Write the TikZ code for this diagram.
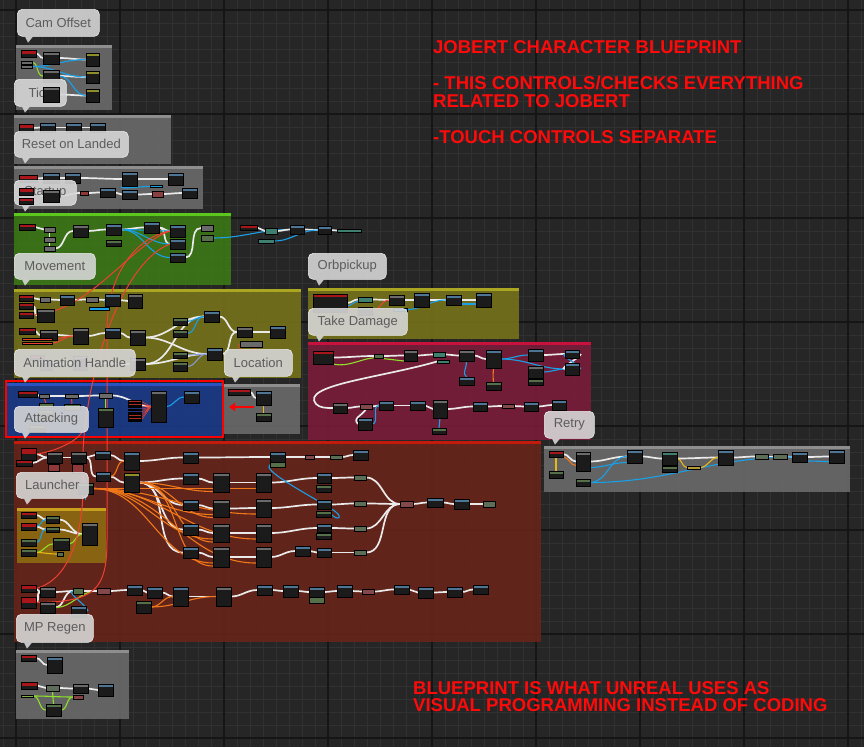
\documentclass[tikz,border=0pt]{standalone}
\usepackage{fontspec}
\setmainfont{Liberation Sans}
\usetikzlibrary{arrows.meta}
\pgfdeclarelayer{bgl}\pgfdeclarelayer{wirel}\pgfdeclarelayer{topl}\pgfdeclarelayer{overl}
\pgfsetlayers{bgl,wirel,main,topl,overl}
\definecolor{bg}{HTML}{262626}
\definecolor{gmin}{HTML}{313131}
\definecolor{gmaj}{HTML}{151515}
\definecolor{nb}{HTML}{1B1B1B}
\definecolor{hblue}{HTML}{4F7594}
\definecolor{hgrey}{HTML}{6A6A6A}
\definecolor{hred}{HTML}{A8161A}
\definecolor{hgreen}{HTML}{556F48}
\definecolor{hteal}{HTML}{3F7F70}
\definecolor{holive}{HTML}{8F8F2A}
\definecolor{wexec}{HTML}{EAEAEA}
\definecolor{wblue}{HTML}{18A0E8}
\definecolor{worange}{HTML}{F07818}
\definecolor{wgreen}{HTML}{8FE02A}
\definecolor{wred}{HTML}{F04030}
\definecolor{wyellow}{HTML}{E8B818}
\definecolor{wpurple}{HTML}{8A9AE0}
\definecolor{cgrey}{HTML}{6C6C6C}\definecolor{cgreyh}{HTML}{8E8E8E}
\definecolor{cgreen}{HTML}{3C7A16}\definecolor{cgreenh}{HTML}{5CC81E}
\definecolor{colive}{HTML}{77741A}\definecolor{coliveh}{HTML}{ABA622}
\definecolor{cblue}{HTML}{1A3A8A}\definecolor{cblueh}{HTML}{2A52C0}
\definecolor{ccrim}{HTML}{7C1C3A}\definecolor{ccrimh}{HTML}{C8123E}
\definecolor{cbrown}{HTML}{6A2419}\definecolor{cbrownh}{HTML}{C21A0C}
\definecolor{cgold}{HTML}{8E6C10}\definecolor{cgoldh}{HTML}{C8A01E}
\definecolor{bub}{HTML}{D6D6D6}\definecolor{bubt}{HTML}{5C5C5C}
\definecolor{tred}{HTML}{FF0A0A}
\tikzset{
 bpn/.style={draw=black, line width=0.3pt, fill=nb, anchor=north west, inner sep=0pt, outer sep=0pt},
 hdr/.style={path picture={\fill[#1] (path picture bounding box.north west) rectangle ([yshift=-2.5pt]path picture bounding box.north east);}},
 evh/.style={path picture={\fill[hred] (path picture bounding box.north west) rectangle (path picture bounding box.east);}},
 exw/.style={draw=wexec, line width=1.7pt},
 blw/.style={draw=wblue, line width=1.1pt},
 orw/.style={draw=worange, line width=1.1pt},
 grw/.style={draw=wgreen, line width=1.1pt},
 rdw/.style={draw=wred, line width=1pt},
 yew/.style={draw=wyellow, line width=1.1pt},
 puw/.style={draw=wpurple, line width=1pt},
 bubble/.style={anchor=north west, inner sep=0pt, rounded corners=5pt, fill=bub, fill opacity=0.9, text opacity=1, draw=white!92!black, line width=0.6pt, text=bubt, font=\fontsize{13}{13}\selectfont},
 rtext/.style={anchor=base west, inner sep=0pt, text=tred, font=\bfseries\fontsize{18.5}{18}\selectfont},
}
\newcommand{\BP}[6]{\node[bpn,hdr=#6,minimum width=#4pt,minimum height=#5pt] (#1) at (#2,#3) {};}
\newcommand{\EV}[5]{\node[bpn,evh,minimum width=#4pt,minimum height=#5pt] (#1) at (#2,#3) {};}
\newcommand{\VN}[6]{\node[bpn,fill=#6,minimum width=#4pt,minimum height=#5pt] (#1) at (#2,#3) {};}
\newcommand{\W}[3]{\draw[#1] (#2.east) to[out=0,in=180] (#3.west);}
\newcommand{\CB}[6]{\fill[#5,fill opacity=0.88] (#1,#2) rectangle (#3,#4); \fill[#6] (#1,#2) rectangle (#3,{#2+3});}
\newcommand{\BB}[6]{\node[bubble,minimum width=#4pt,minimum height=#5pt] (#1) at (#2,#3) {#6};
 \fill[bub,fill opacity=0.9] ([xshift=8pt]#1.south west) -- ([xshift=16pt]#1.south west) -- ([xshift=11pt,yshift=-6pt]#1.south west) -- cycle;}
\begin{document}
\begin{tikzpicture}[x=1pt,y=-1pt]
\useasboundingbox (0,0) rectangle (864,747);
\begin{pgfonlayer}{bgl}
\fill[bg] (0,0) rectangle (864,747);
\foreach \x in {3,16,...,863} \draw[gmin,line width=0.8pt] (\x,0) -- (\x,747);
\foreach \y in {10,23,...,746} \draw[gmin,line width=0.8pt] (0,\y) -- (864,\y);
\foreach \x in {16,120,...,863} \draw[gmaj,line width=1.2pt] (\x,0) -- (\x,747);
\foreach \y in {10,114,...,746} \draw[gmaj,line width=1.2pt] (0,\y) -- (864,\y);
\CB{16}{45}{112}{110}{cgrey}{cgreyh}
\CB{14}{115}{171}{164}{cgrey}{cgreyh}
\CB{14}{166}{203}{209}{cgrey}{cgreyh}
\CB{14}{213}{231}{285}{cgreen}{cgreenh}
\CB{14}{289}{301}{378}{colive}{coliveh}
\CB{7}{383}{222}{436}{cblue}{cblueh}
\CB{224}{384}{300}{434}{cgrey}{cgreyh}
\CB{308}{288}{519}{339}{colive}{coliveh}
\CB{308}{342}{591}{440}{ccrim}{ccrimh}
\CB{544}{446}{850}{492}{cgrey}{cgreyh}
\CB{14}{441}{541}{642}{cbrown}{cbrownh}
\CB{17}{508}{106}{563}{cgold}{cgoldh}
\CB{16}{650}{129}{719}{cgrey}{cgreyh}
\draw[red,line width=2pt] (6,381) rectangle (223,437);
\end{pgfonlayer}
% ---------- texts
\node[rtext] (tx1) at (433,53) {JOBERT CHARACTER BLUEPRINT};
\node[rtext] (tx2) at (433,89) {- THIS CONTROLS/CHECKS EVERYTHING};
\node[rtext] (tx3) at (433,107) {RELATED TO JOBERT};
\node[rtext] (tx4) at (433,143) {-TOUCH CONTROLS SEPARATE};
\node[rtext] (tx5) at (413,694) {BLUEPRINT IS WHAT UNREAL USES AS};
\node[rtext] (tx6) at (413,711) {VISUAL PROGRAMMING INSTEAD OF CODING};
% ---------- Cam Offset
\EV{ca1}{21}{50}{15}{7}
\BP{ca2}{43}{52}{16}{12}{hgrey}
\BP{ca3}{86}{53}{13}{13}{holive}
\BP{ca4}{43}{70}{16}{12}{hgrey}
\BP{ca5}{86}{71}{13}{12}{holive}
\BP{ca7}{86}{89}{13}{13}{holive}
\VN{cv1}{21}{61}{11}{3}{hgrey}
\VN{cv2}{21}{65}{11}{3}{hgrey}
% ---------- Tick
\EV{tk1}{19}{124}{14}{8}
\BP{tk2}{40}{123}{15}{9}{hblue}
\BP{tk3}{66}{123}{15}{9}{hblue}
\BP{tk4}{90}{123}{15}{9}{hblue}
% ---------- Reset on Landed
\EV{rs1}{19}{175}{18}{7}
\BP{rs2}{43}{173}{16}{10}{hblue}
\BP{rs3}{65}{173}{15}{10}{hblue}
\BP{rs4}{122}{172}{15}{14}{hblue}
\BP{rs5}{168}{173}{15}{12}{hblue}
\VN{rs9}{80}{191}{8}{4}{hred!60!hgrey}
\BP{rs10}{100}{188}{15}{9}{hblue}
\BP{rs11}{122}{190}{15}{9}{hblue}
\VN{rs12}{152}{191}{11}{6}{hred!50!hgrey}
\BP{rs13}{182}{188}{15}{10}{hblue}
\VN{rs14}{150}{185}{12}{2}{wblue}
% ---------- Startup
\EV{st1}{19}{224}{16}{6}
\VN{st2}{44}{227}{11}{5}{hgrey}
\VN{st3}{44}{237}{11}{5}{hgrey}
\VN{st4}{44}{246}{11}{5}{hgrey}
\BP{st5}{73}{225}{15}{12}{hgrey}
\BP{st6}{106}{224}{15}{11}{hblue}
\BP{st7}{106}{240}{15}{6}{hgreen}
\BP{st8}{144}{222}{15}{11}{hblue}
\BP{st9}{170}{225}{15}{12}{hblue}
\BP{st10}{170}{239}{15}{10}{hblue}
\BP{st11}{170}{253}{15}{9}{hblue}
\VN{st12}{201}{225}{12}{6}{hgrey}
\VN{st13}{201}{235}{12}{6}{hgreen}
\EV{st14}{240}{225}{17}{5}
\VN{st15}{265}{228}{12}{6}{hteal}
\BP{st16}{290}{225}{14}{9}{hblue}
\BP{st17}{318}{226}{13}{8}{hblue}
\VN{st18}{337}{229}{24}{3}{hteal}
\VN{st19}{258}{239}{16}{4}{hteal}
% ---------- Movement
\EV{mv1}{19}{295}{14}{6}
\VN{mv2}{40}{297}{10}{5}{hgrey}
\BP{mv3}{60}{295}{14}{10}{hblue}
\VN{mv4}{86}{297}{12}{5}{hgrey}
\BP{mv5}{105}{294}{15}{12}{hblue}
\BP{mv6}{128}{294}{14}{14}{hgrey}
\VN{mv7}{89}{307}{20}{3}{wblue}
\EV{mv8}{19}{303}{14}{6}
\EV{mv9}{19}{312}{14}{6}
\BP{mv10}{37}{309}{17}{13}{hgrey}
\EV{mv11}{19}{328}{16}{6}
\BP{mv12}{40}{330}{17}{10}{hgrey}
\BP{mv13}{73}{328}{15}{16}{hgrey}
\BP{mv14}{105}{328}{15}{10}{hblue}
\BP{mv15}{130}{330}{15}{15}{hgrey}
\BP{mv16}{173}{318}{14}{7}{hgreen}
\BP{mv17}{173}{330}{14}{7}{hgreen}
\BP{mv18}{204}{311}{15}{11}{hblue}
\BP{mv19}{237}{327}{15}{10}{hgrey}
\BP{mv20}{270}{326}{15}{12}{hblue}
\BP{mv21}{173}{352}{14}{6}{hgreen}
\BP{mv22}{173}{362}{14}{9}{hgreen}
\BP{mv23}{207}{348}{15}{12}{hblue}
\BP{mv24}{130}{358}{15}{12}{hgrey}
\VN{mv25}{22}{338}{30}{2}{wred}
\VN{mv26}{22}{342}{30}{2}{wred}
\VN{mv27}{240}{341}{22}{6}{hgrey}
\EV{mv28}{30}{355}{14}{5}
\BP{mv29}{40}{360}{12}{10}{hgrey}
\BP{mv30}{73}{356}{14}{14}{hgrey}
% ---------- Orbpickup
\BP{ob1}{313}{294}{34}{18}{hred}
\VN{ob2}{358}{297}{14}{5}{hteal}
\BP{ob3}{358}{307}{14}{8}{hgreen}
\BP{ob4}{389}{295}{15}{10}{hgrey}
\BP{ob5}{414}{293}{15}{14}{hblue}
\BP{ob6}{446}{295}{15}{10}{hblue}
\BP{ob7}{476}{293}{15}{14}{hblue}
\VN{ob8}{393}{308}{14}{3}{wblue}
% ---------- Take Damage
\BP{td1}{313}{351}{20}{13}{hred}
\VN{td2}{374}{354}{9}{4}{hgreen}
\BP{td3}{404}{350}{13}{11}{hgrey}
\VN{td4}{433}{352}{12}{5}{hteal}
\BP{td5}{459}{350}{15}{11}{hgrey}
\BP{td6}{486}{350}{15}{18}{hblue}
\BP{td7}{528}{349}{15}{12}{hblue}
\BP{td8}{565}{350}{14}{8}{hblue}
\BP{td9}{565}{363}{14}{12}{hblue}
\BP{td10}{459}{377}{15}{8}{hblue}
\BP{td11}{486}{382}{15}{8}{hgreen}
\BP{td12}{528}{366}{15}{12}{hgrey}
\BP{td13}{528}{379}{15}{6}{hgreen}
\BP{td14}{333}{403}{14}{10}{hgrey}
\VN{td15}{360}{404}{12}{5}{hred!40!hgrey}
\BP{td16}{379}{401}{14}{9}{hblue}
\BP{td17}{410}{401}{15}{9}{hblue}
\BP{td18}{433}{400}{14}{18}{hgrey}
\BP{td19}{473}{402}{14}{9}{hblue}
\VN{td20}{502}{404}{12}{4}{hred!40!hgrey}
\BP{td21}{524}{402}{14}{9}{hblue}
\BP{td22}{552}{400}{14}{10}{hblue}
\BP{td23}{358}{418}{14}{12}{hblue}
\BP{td24}{432}{428}{14}{6}{hgreen}
\VN{td25}{437}{360}{12}{3}{hteal}
% ---------- Animation Handle
\EV{ah1}{18}{391}{19}{6}
\VN{ah2}{39}{394}{10}{4}{hgrey}
\VN{ah3}{65}{394}{13}{4}{hgrey}
\VN{ah4}{99}{393}{13}{5}{hgrey}
\BP{ah5}{151}{391}{15}{31}{hgrey}
\BP{ah6}{184}{391}{15}{12}{hblue}
\VN{ah7}{39}{403}{14}{4}{hgreen}
\VN{ah8}{64}{404}{16}{6}{hgreen}
\BP{ah9}{98}{408}{15}{19}{hgreen}
\BP{ah10}{38}{410}{15}{10}{hgreen}
\BP{ah11}{29}{425}{16}{7}{hgreen}
\foreach \i in {0,...,7}{\pgfmathsetmacro{\yy}{400.5+2.8*\i}\VN{rsk\i}{128}{\yy}{13}{1.4}{wred!70!black}}
% ---------- Location
\EV{lo1}{228}{389}{22}{6}
\BP{lo2}{256}{391}{15}{14}{hblue}
\BP{lo3}{256}{413}{15}{8}{hgreen}
\coordinate (arrS) at (254,407);
\coordinate (arrE) at (229,407);
% ---------- Attacking
\EV{ak1}{21}{448}{15}{12}
\EV{ak2}{16}{460}{16}{6}
\BP{ak3}{47}{452}{15}{11}{hgrey}
\VN{ak3b}{48}{464}{11}{7}{hred!60!hgrey}
\BP{ak4}{71}{452}{15}{11}{hgrey}
\VN{ak4b}{72}{464}{11}{9}{hred!60!hgrey}
\BP{ak5}{95}{451}{15}{8}{hblue}
\BP{ak6}{124}{452}{15}{18}{hblue}
\BP{ak7}{183}{452}{15}{11}{hblue}
\BP{ak8}{270}{452}{15}{10}{hblue}
\VN{ak8b}{270}{462}{15}{5}{hgreen}
\VN{ak9}{305}{455}{9}{4}{hred!40!hgrey}
\VN{ak10}{330}{455}{12}{4}{hgreen!70!hgrey}
\BP{ak11}{353}{450}{15}{10}{hblue}
\BP{ak12}{96}{472}{14}{9}{hblue}
\BP{ak13}{124}{473}{15}{19}{holive}
\BP{ak14}{183}{473}{15}{11}{hblue}
\BP{ak15}{213}{473}{16}{19}{hgrey}
\BP{ak16}{256}{473}{15}{19}{hgrey}
\BP{ak17}{317}{473}{14}{10}{hblue}
\BP{ak18}{316}{485}{15}{7}{hgreen}
\VN{ak19g}{354}{475}{12}{5}{hgreen!60!hgrey}
\BP{ak20}{78}{483}{15}{11}{hgreen}
\BP{ak21}{183}{500}{15}{10}{hblue}
\BP{ak22}{213}{500}{16}{17}{hgrey}
\BP{ak23}{256}{499}{15}{18}{hgrey}
\BP{ak24}{317}{500}{14}{9}{hblue}
\BP{ak25}{316}{511}{15}{6}{hgreen}
\VN{ak26}{354}{501}{12}{5}{hgreen!60!hgrey}
\VN{ak27}{400}{501}{13}{6}{hred!40!hgrey}
\BP{ak28}{427}{498}{16}{9}{hblue}
\BP{ak29}{454}{499}{15}{10}{hblue}
\VN{ak30}{483}{501}{12}{6}{hgreen!60!hgrey}
\BP{ak31}{183}{524}{15}{11}{hblue}
\BP{ak32}{213}{524}{16}{18}{hgrey}
\BP{ak33}{256}{524}{15}{18}{hgrey}
\BP{ak34}{317}{524}{14}{8}{hblue}
\BP{ak35}{316}{533}{15}{6}{hgreen}
\VN{ak36}{354}{526}{12}{5}{hgreen!60!hgrey}
\BP{ak37}{183}{547}{15}{11}{hblue}
\BP{ak38}{213}{547}{16}{20}{hgrey}
\BP{ak39}{256}{547}{15}{20}{hgrey}
\BP{ak40}{295}{546}{15}{10}{hblue}
\BP{ak41}{317}{548}{14}{9}{hblue}
\VN{ak42}{354}{550}{12}{5}{hgreen!60!hgrey}
% ---------- Launcher
\EV{ln1}{21}{512}{15}{6}
\EV{ln2}{21}{523}{15}{7}
\BP{ln3}{46}{516}{13}{7}{hgreen}
\BP{ln4}{46}{527}{13}{5}{hgreen}
\BP{ln5}{21}{539}{15}{7}{hgreen}
\BP{ln6}{21}{549}{15}{7}{hgreen}
\BP{ln7}{53}{538}{16}{12}{hgreen}
\BP{ln8}{82}{523}{15}{22}{hgrey}
\VN{ln9}{57}{552}{6}{4}{hgreen}
% ---------- lower row in Attacking
\EV{mp1}{21}{585}{15}{7}
\EV{mp2}{21}{597}{15}{11}
\BP{mp3}{40}{587}{15}{10}{hgrey}
\BP{mp4}{40}{602}{15}{11}{hgrey}
\VN{mp5}{73}{588}{10}{6}{hgreen}
\VN{mp6}{97}{588}{13}{6}{hred!40!hgrey}
\BP{mp7}{127}{585}{15}{10}{hblue}
\BP{mp8}{147}{587}{15}{11}{hblue}
\BP{mp9}{173}{587}{15}{19}{hblue}
\BP{mp10}{216}{587}{15}{19}{hgrey}
\BP{mp11}{257}{585}{15}{10}{hblue}
\BP{mp12}{283}{585}{15}{12}{hblue}
\BP{mp13}{309}{587}{15}{10}{hblue}
\VN{mp13b}{309}{597}{15}{6}{hgreen}
\BP{mp14}{337}{585}{15}{12}{hblue}
\VN{mp15}{362}{589}{12}{5}{hred!40!hgrey}
\BP{mp16}{394}{585}{15}{9}{hblue}
\BP{mp17}{418}{587}{15}{11}{hblue}
\BP{mp18}{447}{587}{15}{10}{hblue}
\BP{mp19}{473}{585}{15}{9}{hblue}
\BP{mp20}{136}{601}{15}{12}{hgreen}
\BP{mp21}{71}{606}{15}{11}{hblue}
% ---------- MP Regen
\EV{rg1}{21}{655}{15}{6}
\BP{rg2}{47}{657}{15}{16}{hblue}
\EV{rg3}{21}{682}{16}{7}
\VN{rg4}{46}{685}{13}{6}{hgreen!50!hgrey}
\BP{rg5}{73}{684}{15}{9}{hgrey}
\VN{rg6}{73}{695}{10}{4}{hred!50!hgrey}
\BP{rg7}{98}{684}{15}{12}{hblue}
\BP{rg8}{46}{704}{15}{12}{hgreen}
\VN{rg9}{21}{695}{12}{2}{wgreen!60!hgrey}
% ---------- Retry
\EV{re1}{549}{451}{14}{6}
\BP{re2}{576}{452}{14}{19}{hgrey}
\BP{re3}{627}{450}{15}{13}{hblue}
\BP{re4}{662}{452}{15}{13}{hteal}
\BP{re5}{662}{466}{15}{6}{hgreen}
\BP{re6}{718}{450}{15}{15}{hblue}
\VN{re7}{755}{454}{13}{5}{hgreen!60!hgrey}
\VN{re8}{773}{454}{14}{5}{hgreen!60!hgrey}
\BP{re9}{792}{452}{15}{10}{hblue}
\BP{re10}{829}{450}{15}{13}{hblue}
\BP{re11}{549}{471}{14}{7}{hgreen}
\BP{re12}{576}{479}{14}{7}{hgreen}
\VN{re13}{687}{466}{13}{3}{wyellow!60!hgrey}
% ---------- nodes drawn above bubbles
\begin{pgfonlayer}{overl}
\BP{ca6}{43}{87}{16}{15}{hgrey}
\EV{rs6}{19}{188}{14}{7}
\EV{rs7}{19}{198}{14}{6}
\BP{rs8}{43}{190}{16}{12}{hgrey}
\end{pgfonlayer}
% ---------- bubbles
\begin{pgfonlayer}{topl}
\BB{b1}{17}{9}{82}{27}{Cam Offset}
\BB{b2}{14}{79}{52}{27}{Tick}
\BB{b3}{14}{131}{114}{26}{Reset on Landed}
\BB{b4}{14}{180}{62}{25}{Startup}
\BB{b5}{14}{253}{81}{26}{Movement}
\BB{b6}{308}{253}{78}{26}{Orbpickup}
\BB{b7}{308}{308}{99}{27}{Take Damage}
\BB{b8}{14}{349}{121}{27}{Animation Handle}
\BB{b9}{224}{349}{68}{27}{Location}
\BB{b10}{14}{406}{74}{26}{Attacking}
\BB{b11}{544}{411}{50}{27}{Retry}
\BB{b12}{16}{472}{72}{26}{Launcher}
\BB{b13}{16}{614}{77}{28}{MP Regen}
\end{pgfonlayer}
% ---------- wires
\begin{pgfonlayer}{wirel}
% Cam Offset
\W{exw}{ca1}{ca2}\W{exw}{ca2}{ca3}\W{exw}{ca4}{ca5}\W{exw}{ca6}{ca7}
\W{grw}{cv1}{ca4}\W{blw}{cv2}{ca3}\W{blw}{cv2}{ca5}\W{blw}{ca4}{ca7}
% Tick
\W{exw}{tk1}{tk2}\W{exw}{tk2}{tk3}\W{exw}{tk3}{tk4}
% Reset
\W{exw}{rs1}{rs2}\W{exw}{rs2}{rs3}\W{exw}{rs3}{rs4}\W{exw}{rs4}{rs5}
\W{exw}{rs6}{rs8}\W{exw}{rs8}{rs9}\W{exw}{rs9}{rs10}\W{exw}{rs10}{rs11}\W{exw}{rs11}{rs12}\W{exw}{rs12}{rs13}
\draw[blw] (rs4.south west) .. controls (118,190) and (140,186) .. (rs14.east);
% Startup
\W{exw}{st1}{st2}\draw[exw] (st2.south) -- (st3.north);\draw[exw] (st3.south) -- (st4.north);
\W{exw}{st4}{st5}\W{exw}{st5}{st6}\W{exw}{st6}{st8}\W{exw}{st8}{st9}\W{exw}{st8}{st10}\W{exw}{st11}{st12}
\W{blw}{st6}{st9}\W{blw}{st6}{st10}\W{blw}{st6}{st11}\W{blw}{st13}{st16}
\W{exw}{st14}{st15}\W{exw}{st15}{st16}\W{exw}{st16}{st17}\W{exw}{st17}{st18}\W{blw}{st19}{st17}
% Movement
\W{exw}{mv1}{mv2}\W{exw}{mv2}{mv3}\W{exw}{mv3}{mv4}\W{exw}{mv4}{mv5}\W{exw}{mv5}{mv6}\W{blw}{mv7}{mv5}
\W{exw}{mv8}{mv10}\W{exw}{mv11}{mv12}\W{grw}{mv12}{mv13}\W{exw}{mv12}{mv13}\W{exw}{mv13}{mv14}\W{exw}{mv14}{mv15}
\W{rdw}{mv25}{mv13}\W{rdw}{mv26}{mv13}
\W{exw}{mv15}{mv18}\W{exw}{mv15}{mv23}\W{exw}{mv24}{mv18}\W{exw}{mv24}{mv23}
\W{exw}{mv18}{mv19}\W{exw}{mv23}{mv19}\W{exw}{mv19}{mv20}
\W{blw}{mv16}{mv18}\W{blw}{mv17}{mv18}\W{puw}{mv21}{mv23}\W{puw}{mv22}{mv23}
\W{exw}{mv28}{mv29}\W{exw}{mv29}{mv30}\W{exw}{mv30}{mv24}
\draw[rdw,densely dotted] (mv27.west) .. controls (232,348) and (250,356) .. (mv27.east);
% Orbpickup
\W{exw}{ob1}{ob2}\W{exw}{ob2}{ob4}\W{exw}{ob4}{ob5}\W{exw}{ob5}{ob6}\W{exw}{ob6}{ob7}
\draw[blw] ([yshift=-3pt]ob1.east) to[out=0,in=180] ([yshift=-2pt]ob2.west);
\W{blw}{ob8}{ob6}\W{rdw}{ob3}{ob4}\draw[blw] ([yshift=-4pt]ob6.east) to[out=0,in=180] ([yshift=-4pt]ob7.west);
% Take Damage
\W{exw}{td1}{td2}\W{exw}{td2}{td3}\W{exw}{td3}{td4}\W{exw}{td4}{td5}\W{exw}{td5}{td6}\W{blw}{td6}{td7}
\W{exw}{td7}{td8}\W{blw}{td6}{td9}\W{blw}{td12}{td9}\W{exw}{td8}{td9}
\draw[grw] (td1.south east) .. controls (350,368) and (365,356) .. (td2.south) -- (td3.south west);
\draw[orw] (td6.south) .. controls (493,374) and (493,378) .. (td11.north);
\draw[blw] (td5.south) .. controls (466,372) and (462,372) .. (td10.north);
\draw[exw] (td25.west) .. controls (380,378) and (300,385) .. (316,404) .. controls (320,408) and (326,408) .. (td14.west);
\W{exw}{td14}{td15}\W{exw}{td15}{td16}\W{exw}{td16}{td17}\W{exw}{td17}{td18}\W{exw}{td18}{td19}\W{exw}{td19}{td20}\W{exw}{td20}{td21}\W{exw}{td21}{td22}
\draw[exw] (td15.south) .. controls (362,416) and (352,418) .. (td23.west);
\W{blw}{td23}{td16}\draw[blw] (td18.south) -- (td24.north);\W{blw}{td9}{td8}
% Animation Handle
\W{exw}{ah1}{ah2}\W{exw}{ah2}{ah3}\W{exw}{ah3}{ah4}\W{exw}{ah4}{ah5}\W{blw}{ah5}{ah6}
\draw[rdw] (ah2.south) -- (ah7.north);\draw[rdw] (ah3.south) -- (ah8.north);\draw[grw] (ah4.south) -- (ah9.north);
\foreach \i in {0,...,7}{\draw[wred,line width=0.5pt] (rsk\i.east) -- (ah5.west);}
% Location
\W{exw}{lo1}{lo2}\draw[yew] (lo3.north) -- (lo2.south);
\draw[red,line width=2.4pt,-{Triangle[length=6pt,width=8pt]}] (arrS) -- (arrE);
% Attacking
\W{exw}{ak1}{ak3}\W{exw}{ak2}{ak3}\W{exw}{ak3}{ak4}\W{exw}{ak4}{ak5}\W{exw}{ak4}{ak12}
\W{exw}{ak5}{ak6}\W{exw}{ak6}{ak7}\W{exw}{ak7}{ak8}\W{exw}{ak8}{ak9}\W{exw}{ak9}{ak10}\W{exw}{ak10}{ak11}
\W{exw}{ak12}{ak13}\W{orw}{ak12}{ak6}
\W{exw}{ak13}{ak14}\W{exw}{ak13}{ak21}\W{exw}{ak13}{ak31}\W{exw}{ak13}{ak37}
\W{exw}{ak14}{ak15}\W{exw}{ak15}{ak16}\W{exw}{ak16}{ak17}\W{exw}{ak17}{ak19g}
\W{exw}{ak21}{ak22}\W{exw}{ak22}{ak23}\W{exw}{ak23}{ak24}\W{exw}{ak24}{ak26}
\W{exw}{ak31}{ak32}\W{exw}{ak32}{ak33}\W{exw}{ak33}{ak34}\W{exw}{ak34}{ak36}
\W{exw}{ak37}{ak38}\W{exw}{ak38}{ak39}\W{exw}{ak39}{ak40}\W{exw}{ak40}{ak41}\W{exw}{ak41}{ak42}
\W{exw}{ak19g}{ak27}\W{exw}{ak26}{ak27}\W{exw}{ak36}{ak27}\W{exw}{ak42}{ak27}
\W{exw}{ak27}{ak28}\W{exw}{ak28}{ak29}\W{exw}{ak29}{ak30}
\foreach \t in {ak15,ak16,ak22,ak23,ak32,ak33,ak38,ak39}{\draw[orw] (ak20.east) to[out=0,in=180] ([yshift=-6pt]\t.west);}
\foreach \t in {ak15,ak22,ak32,ak38}{\draw[orw] (ak13.east) to[out=0,in=180] ([yshift=-9pt]\t.west);}
\draw[blw] (ak8b.west) .. controls (262,470) and (300,490) .. (330,508) .. controls (346,517) and (338,522) .. (ak25.east);
\draw[blw] (ak20.south) -- ++(0,6);
% Launcher
\W{exw}{ln1}{ln3}\W{exw}{ln2}{ln4}\W{exw}{ln3}{ln8}\W{exw}{ln4}{ln8}\W{blw}{ln2}{ln3}
\W{grw}{ln7}{ln8}\W{grw}{ln6}{ln7}\W{yew}{ln6}{ln9}\W{blw}{ln5}{ln4}
% lower row
\W{exw}{mp1}{mp3}\W{exw}{mp2}{mp3}\W{exw}{mp3}{mp5}\W{exw}{mp4}{mp5}\W{grw}{mp4}{mp6}
\W{exw}{mp5}{mp6}\W{exw}{mp6}{mp7}\W{exw}{mp7}{mp8}\W{exw}{mp8}{mp9}\W{exw}{mp9}{mp10}\W{exw}{mp10}{mp11}
\W{exw}{mp11}{mp12}\W{exw}{mp12}{mp13}\W{exw}{mp13}{mp14}\W{exw}{mp14}{mp15}\W{exw}{mp15}{mp16}
\W{exw}{mp16}{mp17}\W{exw}{mp17}{mp18}\W{exw}{mp18}{mp19}
\W{orw}{mp20}{mp9}\W{orw}{mp20}{mp10}\W{blw}{mp21}{mp5}
% MP Regen
\W{exw}{rg1}{rg2}\W{exw}{rg3}{rg4}\W{exw}{rg4}{rg5}\W{exw}{rg5}{rg7}
\W{grw}{rg9}{rg6}\W{grw}{rg9}{rg8}\draw[grw] (rg4.south) -- (rg8.north);\W{grw}{rg8}{rg6}
% Retry
\W{exw}{re1}{re2}\W{exw}{re2}{re3}\W{exw}{re3}{re4}\W{exw}{re4}{re6}\W{exw}{re6}{re7}\W{exw}{re7}{re8}\W{exw}{re8}{re9}\W{exw}{re9}{re10}
\draw[orw] (re1.south east) to[out=0,in=180] ([yshift=-4pt]re2.west);
\draw[blw] ([yshift=-6pt]re2.east) to[out=0,in=180] ([yshift=-6pt]re3.west);
\W{blw}{re12}{re3}\W{blw}{re12}{re9}\draw[blw] ([yshift=-4pt]re9.east) to[out=0,in=180] ([yshift=-5pt]re10.west);
\draw[yew] (re11.north) -- (re1.south);\W{yew}{re4}{re13}\W{yew}{re13}{re6}
% long red wires
\draw[rdw] (mp1.east) .. controls (75,578) and (85,520) .. (83,470) .. controls (80,400) and (115,265) .. (st10.west);
\draw[rdw] (mp2.east) .. controls (95,602) and (107,590) .. (107,540) -- (107,330) .. controls (107,270) and (140,236) .. (st9.west);
\draw[rdw] (mv9.east) .. controls (90,312) and (130,245) .. (st9.west);
\draw[rdw] (ak1.east) .. controls (55,452) and (80,440) .. (83,430);
\end{pgfonlayer}
\end{tikzpicture}
\end{document}
